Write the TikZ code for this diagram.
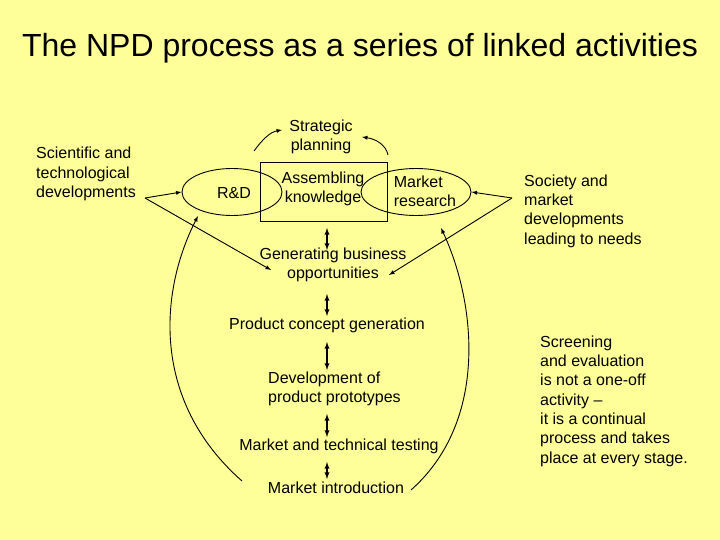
\documentclass[tikz,border=0pt]{standalone}
\usepackage{fontspec}
\setmainfont{Liberation Sans}
\usetikzlibrary{shapes.geometric}
\begin{document}
\begin{tikzpicture}[x=1pt,y=-1pt,
  txt/.style={font=\fontsize{16}{19.3}\selectfont,inner sep=0pt,align=left},
  ar/.style={-latex,line width=0.9pt},
  dar/.style={latex-latex,line width=1.3pt},
  ln/.style={line width=0.9pt}]
\fill[fill={rgb,255:red,255;green,255;blue,153}] (0,0) rectangle (720,540);
\useasboundingbox (0,0) rectangle (720,540);
\node[font=\fontsize{32}{36}\selectfont] (title) at (360,48) {The NPD process as a series of linked activities};
\node[txt,anchor=west] (sci) at (36,174) {Scientific and\\technological\\developments};
\node[draw,ln,ellipse,minimum width=100,minimum height=47,inner sep=0pt] (rd) at (232,192) {};
\node[txt] at (234,193) {R\&D};
\node[draw,line width=0.7pt,minimum width=127,minimum height=59,inner sep=0pt] (box) at (323.5,191.5) {};
\node[txt,align=center] (ak) at (323,189) {Assembling\\knowledge};
\node[draw,ln,ellipse,minimum width=110,minimum height=47,inner sep=0pt] (mr) at (416,192) {};
\node[txt] at (425,191) {Market\\research};
\node[txt,align=center] (sp) at (321,137) {Strategic\\planning};
\coordinate (a1) at (254,151); \coordinate (a2) at (282,130);
\coordinate (b1) at (388,155); \coordinate (b2) at (362,137);
\draw[ar] (a1) .. controls (262,140) and (270,132) .. (a2);
\draw[ar] (b1) .. controls (386,145) and (376,139) .. (b2);
\coordinate (lp) at (145,198); \coordinate (rp) at (512,198);
\node[txt,align=center] (gb) at (333,265) {Generating business\\opportunities};
\draw[ar] (lp) -- (rd.west);
\draw[ar] (lp) -- (271,270);
\draw[ar] (rp) -- (mr.east);
\draw[ar] (rp) -- (389,275);
\node[txt] (pc) at (327,325) {Product concept generation};
\node[txt,anchor=west] (dp) at (268,389) {Development of\\product prototypes};
\node[txt] (mt) at (339,446) {Market and technical testing};
\node[txt] (mi) at (336,488) {Market introduction};
\draw[dar] (327,228) -- (327,250);
\draw[dar] (327,294) -- (327,316);
\draw[dar] (327,342) -- (327,370);
\draw[dar] (327,414) -- (327,437);
\draw[dar] (327,462) -- (327,479);
\coordinate (lb) at (242,481); \coordinate (lt) at (198,216);
\coordinate (rb) at (411,490); \coordinate (rt) at (441,228);
\draw[ar] (lb) .. controls (150,400) and (160,290) .. (lt);
\draw[ar] (rb) .. controls (490,420) and (475,300) .. (rt);
\node[txt,anchor=west] (soc) at (524,211) {Society and\\market\\developments\\leading to needs};
\node[txt,anchor=west] (scr) at (540,401) {Screening\\and evaluation\\is not a one-off\\activity --\\it is a continual\\process and takes\\place at every stage.};
\end{tikzpicture}
\end{document}
